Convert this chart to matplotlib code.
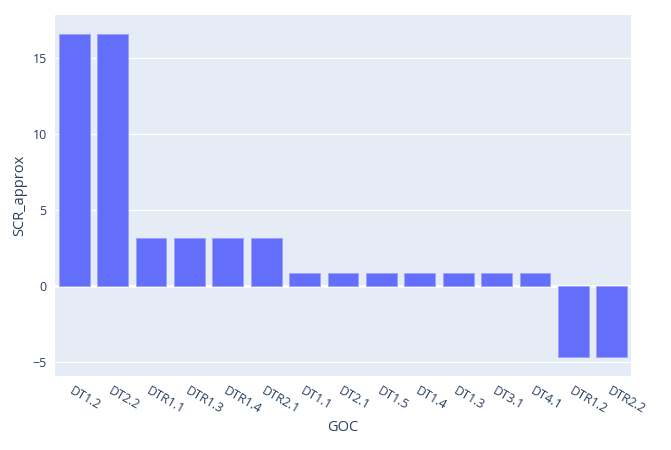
import matplotlib
matplotlib.use("Agg")
import matplotlib.pyplot as plt

goc = ["DT1.2", "DT2.2", "DTR1.1", "DTR1.3", "DTR1.4", "DTR2.1", "DT1.1", "DT2.1",
       "DT1.5", "DT1.4", "DT1.3", "DT3.1", "DT4.1", "DTR1.2", "DTR2.2"]
scr_approx = [16.6, 16.6, 3.13, 3.13, 3.13, 3.13, 0.82, 0.82,
              0.82, 0.82, 0.82, 0.82, 0.82, -4.7, -4.7]
y_ticks = [-5, 0, 5, 10, 15]

text_color = "#2a3f5f"
plt.rcParams["font.family"] = ["Open Sans", "DejaVu Sans"]

fig = plt.figure(figsize=(6.71, 4.5), dpi=100)
ax = fig.add_axes([55 / 671, 1 - 376 / 450, 576 / 671, 361 / 450])
ax.set_facecolor("#e5ecf6")

x = list(range(len(goc)))
ax.bar(x, scr_approx, width=0.8, color="#636efa", edgecolor="#9aa2fb", linewidth=0.6, zorder=3)

ax.set_xlim(-0.5, len(goc) - 0.5)
ax.set_ylim(-5.93, 17.83)
ax.set_yticks(y_ticks)
ax.set_yticklabels(["\u22125", "0", "5", "10", "15"])
ax.grid(axis="y", color="white", linewidth=1, zorder=0)
ax.axhline(0, color="white", linewidth=2, zorder=1)

ax.set_xticks(x)
ax.set_xticklabels(goc, rotation=-30, ha="left", va="top", rotation_mode="anchor")
ax.tick_params(axis="both", length=0, labelsize=9, labelcolor=text_color)
ax.tick_params(axis="x", pad=6)
ax.tick_params(axis="y", pad=6)
for spine in ax.spines.values():
    spine.set_visible(False)

ax.set_xlabel("GOC", fontsize=10.5, color=text_color, labelpad=3)
ax.set_ylabel("SCR_approx", fontsize=10.5, color=text_color, labelpad=4)

fig.savefig("out.png", dpi=100)
